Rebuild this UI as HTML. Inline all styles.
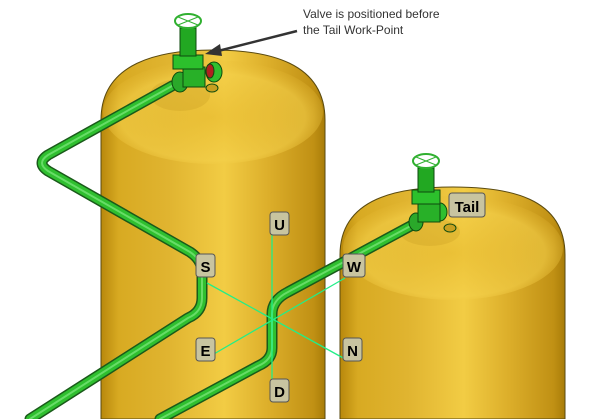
<!DOCTYPE html>
<html><head><meta charset="utf-8"><style>
html,body{margin:0;padding:0;background:#fff;width:609px;height:419px;overflow:hidden}
</style></head><body>
<svg width="609" height="419" viewBox="0 0 609 419" xmlns="http://www.w3.org/2000/svg" font-family="Liberation Sans, sans-serif">
<defs>
<linearGradient id="tk" x1="0" x2="1" y1="0" y2="0">
<stop offset="0" stop-color="#b8880c"/><stop offset="0.08" stop-color="#d8aa22"/>
<stop offset="0.3" stop-color="#e0b430"/><stop offset="0.55" stop-color="#f2cc44"/>
<stop offset="0.75" stop-color="#dcae2a"/><stop offset="0.95" stop-color="#c09014"/><stop offset="1" stop-color="#a87c08"/>
</linearGradient>
<radialGradient id="dm" cx="0.5" cy="0.55" r="0.6">
<stop offset="0" stop-color="#e8bc30"/><stop offset="0.7" stop-color="#f4d04a"/><stop offset="1" stop-color="#e0b02a" stop-opacity="0"/>
</radialGradient>
</defs>
<!-- tank 1 -->
<path d="M101,419 L101,120 C101,62 160,50 213,50 C268,50 325,62 325,120 L325,419 Z" fill="url(#tk)" stroke="#5a4a10" stroke-width="1"/>
<ellipse cx="213" cy="112" rx="110" ry="52" fill="url(#dm)" opacity="0.6"/>
<ellipse cx="180" cy="95" rx="30" ry="16" fill="#c89a20" opacity="0.3"/>
<!-- tank 2 -->
<path d="M340,419 L340,255 C340,197 400,187 453,187 C508,187 565,197 565,255 L565,419 Z" fill="url(#tk)" stroke="#5a4a10" stroke-width="1"/>
<ellipse cx="453" cy="248" rx="110" ry="52" fill="url(#dm)" opacity="0.6"/>
<ellipse cx="430" cy="232" rx="30" ry="14" fill="#c89a20" opacity="0.3"/>
<!-- pipes -->
<g fill="none" stroke-linejoin="round" stroke-linecap="round">
<path d="M172,86 L48,155 Q36,163 48,171 L190,252 Q202,260 202,272 L202,298 Q202,312 188,318 L30,419" stroke="#1a5a1a" stroke-width="11"/>
<path d="M172,86 L48,155 Q36,163 48,171 L190,252 Q202,260 202,272 L202,298 Q202,312 188,318 L30,419" stroke="#2fbf2f" stroke-width="8"/>
<path d="M172,86 L48,155 Q36,163 48,171 L190,252 Q202,260 202,272 L202,298 Q202,312 188,318 L30,419" stroke="#8ef08e" stroke-width="2" opacity="0.6"/>
<path d="M418,222 L288,292 Q272,300 272,314 L272,348 Q272,360 258,366 L160,419" stroke="#1a5a1a" stroke-width="11"/>
<path d="M418,222 L288,292 Q272,300 272,314 L272,348 Q272,360 258,366 L160,419" stroke="#2fbf2f" stroke-width="8"/>
<path d="M418,222 L288,292 Q272,300 272,314 L272,348 Q272,360 258,366 L160,419" stroke="#8ef08e" stroke-width="2" opacity="0.6"/>
</g>
<!-- valve 1 -->
<g stroke="#0e4a0e" stroke-width="1">
<ellipse cx="212" cy="88" rx="6" ry="4" fill="#c8a020"/>
<ellipse cx="214" cy="72" rx="8" ry="10" fill="#2fbf2f"/>
<ellipse cx="210" cy="71" rx="4" ry="7" fill="#b02020"/>
<ellipse cx="180" cy="82" rx="8" ry="10" fill="#2aa82a"/>
<rect x="183" y="67" width="22" height="20" fill="#28b028"/>
<rect x="173" y="55" width="30" height="14" fill="#2cc02c"/>
<rect x="180" y="28" width="16" height="28" fill="#22a822"/>
<ellipse cx="188" cy="21" rx="13" ry="7" fill="none" stroke="#30b030" stroke-width="2"/>
<path d="M178,17 L198,25 M198,17 L178,25" stroke="#30b030"/>
</g>
<!-- valve 2 -->
<g stroke="#0e4a0e" stroke-width="1">
<ellipse cx="450" cy="228" rx="6" ry="4" fill="#c8a020"/>
<ellipse cx="440" cy="212" rx="7" ry="9" fill="#2fbf2f"/>
<ellipse cx="416" cy="222" rx="7" ry="9" fill="#2aa82a"/>
<rect x="418" y="204" width="22" height="18" fill="#28b028"/>
<rect x="412" y="190" width="28" height="14" fill="#2cc02c"/>
<rect x="418" y="168" width="16" height="24" fill="#22a822"/>
<ellipse cx="426" cy="161" rx="13" ry="7" fill="none" stroke="#30b030" stroke-width="2"/>
<path d="M416,157 L436,165 M436,157 L416,165" stroke="#30b030"/>
</g>
<!-- green axis lines -->
<g stroke="#22ee88" stroke-width="1.3">
<line x1="272" y1="230" x2="272" y2="400"/>
<line x1="207" y1="283" x2="345" y2="359"/>
<line x1="207" y1="358" x2="345" y2="278"/>
</g>
<!-- labels -->
<g font-weight="bold" font-size="15" text-anchor="middle" fill="#000">
<g stroke="#555" stroke-width="1" fill="#c8c4a0">
<rect x="196" y="254" width="19" height="23" rx="3"/>
<rect x="270" y="212" width="19" height="23" rx="3"/>
<rect x="343" y="254" width="22" height="23" rx="3"/>
<rect x="196" y="338" width="19" height="23" rx="3"/>
<rect x="343" y="338" width="19" height="23" rx="3"/>
<rect x="270" y="379" width="19" height="23" rx="3"/>
<rect x="449" y="193" width="36" height="24" rx="3"/>
</g>
<text x="205.5" y="272">S</text>
<text x="279.5" y="230">U</text>
<text x="354" y="272">W</text>
<text x="205.5" y="356">E</text>
<text x="352.5" y="356">N</text>
<text x="279.5" y="397">D</text>
<text x="467" y="212">Tail</text>
</g>
<!-- annotation -->
<text x="303" y="18" font-size="12" fill="#333">Valve is positioned before</text>
<text x="303" y="34" font-size="12" fill="#333">the Tail Work-Point</text>
<line x1="297" y1="31" x2="218" y2="51" stroke="#333" stroke-width="2.5"/>
<path d="M205,54 L220,44 L222,56 Z" fill="#333"/>
</svg>
</body></html>
